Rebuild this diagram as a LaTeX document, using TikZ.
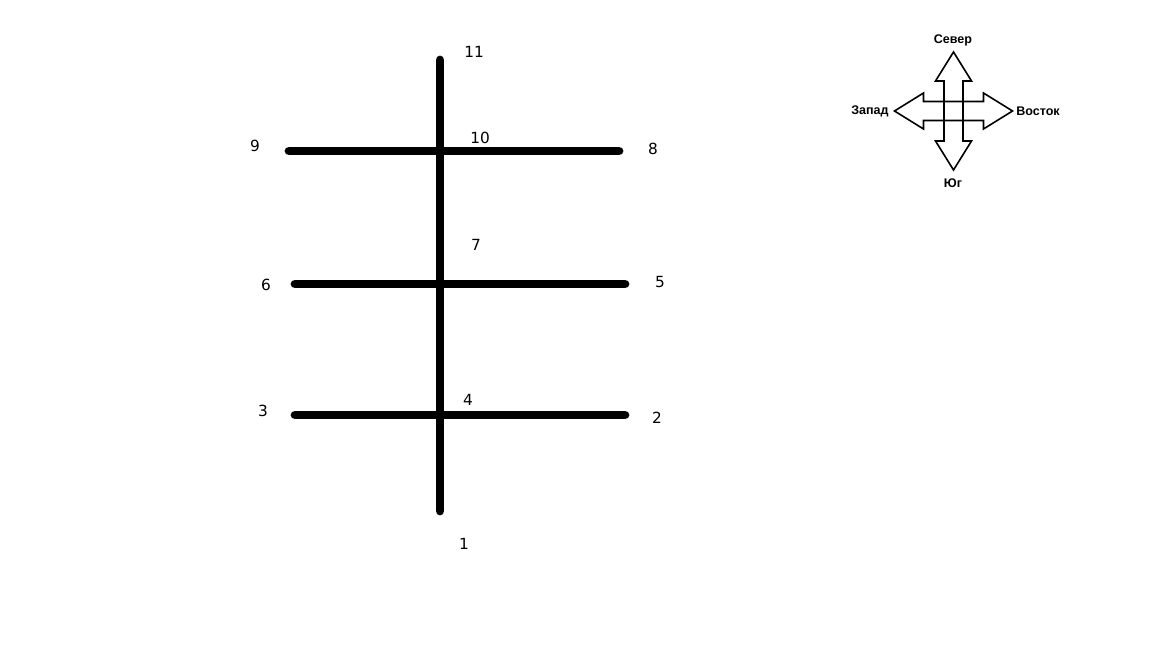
\documentclass[tikz,border=0pt]{standalone}
\usepackage{fontspec}
\setmainfont{DejaVu Sans}
\newfontfamily\compassfont{Liberation Sans}
\usetikzlibrary{calc}
\definecolor{inkcol}{RGB}{0, 0, 0}
\tikzset{
  bar/.style    = {draw=inkcol, line width=6.6pt, line cap=round},
  num/.style    = {font=\fontsize{11.5}{13}\selectfont, inner sep=0pt},
  compass/.style = {font=\compassfont\bfseries\fontsize{9.4}{11}\selectfont,
                    inner sep=0pt},
  outline/.style = {draw=inkcol, line width=1.2pt, line join=miter},
}

\begin{document}
\begin{tikzpicture}[x=0.75pt, y=-0.75pt]

  \useasboundingbox (0,0) rectangle (1152,648);

  %% ---------------- the frame of lines ----------------
  \coordinate (top) at (440,60);
  \coordinate (bot) at (440,511);
  \coordinate (w9)  at (289,151);
  \coordinate (e8)  at (619,151);
  \coordinate (w6)  at (295,284);
  \coordinate (e5)  at (625,284);
  \coordinate (w3)  at (295,415);
  \coordinate (e2)  at (625,415);

  \draw[bar] (bot) -- (top);
  \draw[bar] (w9) -- (e8);
  \draw[bar] (w6) -- (e5);
  \draw[bar] (w3) -- (e2);

  \foreach \n/\x/\y in {1/464/544, 2/657/418, 3/263/411, 4/468/400,
                        5/660/282, 6/266/285, 7/476/245, 8/653/149,
                        9/255/146, 10/480/138, 11/474/52} {
    \node[num] (n\n) at (\x,\y) {\n};
  }

  %% ---------------- the compass ----------------
  \coordinate (cmp) at (953.5,111);
  \foreach \r in {0,90} {
    \draw[outline, shift={(cmp)}, rotate=\r]
      (0,-59) -- (18,-30) -- (9.5,-30) -- (9.5,30) -- (18,30) -- (0,59)
      -- (-18,30) -- (-9.5,30) -- (-9.5,-30) -- (-18,-30) -- cycle;
  }

  \node[compass] (north) at (953,40)  {Север};
  \node[compass] (south) at (953,183) {Юг};
  \node[compass] (west)  at (870,111) {Запад};
  \node[compass] (east)  at (1038,111) {Восток};

\end{tikzpicture}
\end{document}
